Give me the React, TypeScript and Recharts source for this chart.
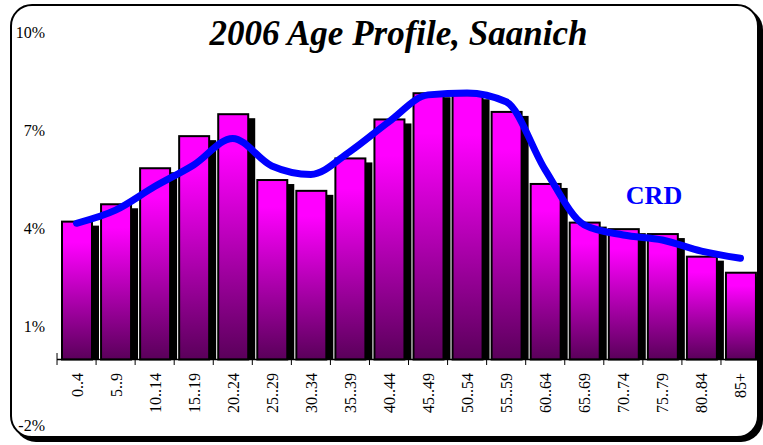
import React from 'react';
import { ComposedChart, Bar, Line, XAxis, YAxis, ReferenceLine } from 'recharts';

const categories = ['0..4', '5..9', '10..14', '15..19', '20..24', '25..29', '30..34', '35..39', '40..44', '45..49', '50..54', '55..59', '60..64', '65..69', '70..74', '75..79', '80..84', '85+'];
const saanich = [4.21, 4.74, 5.84, 6.82, 7.49, 5.48, 5.15, 6.14, 7.33, 8.13, 8.07, 7.56, 5.36, 4.18, 3.98, 3.83, 3.14, 2.65];
const crd = [4.16, 4.56, 5.28, 5.94, 6.75, 5.91, 5.65, 6.35, 7.26, 8.08, 8.14, 7.87, 5.79, 4.11, 3.8, 3.65, 3.31, 3.09];
const yTicks = [-2, 1, 4, 7, 10];
const title = '2006 Age Profile, Saanich';
const lineLabel = 'CRD';

const data = categories.map((c, i) => ({ cat: c, saanich: saanich[i], crd: crd[i] }));

const SERIF = '"Liberation Serif", "Times New Roman", serif';

const BarShape = (props: any) => {
  const { x, y, width, height } = props;
  if (!height || height <= 0) return null;
  return (
    <g>
      <rect x={x + 7} y={y + 4} width={width} height={Math.max(0, height - 4)} fill="#000" />
      <rect x={x} y={y} width={width} height={height} fill="url(#barGrad)" stroke="#000" strokeWidth={2} />
    </g>
  );
};

const XTick = (props: any) => {
  const { x, y, payload, index } = props;
  const oy = y - 66;
  const half = 19.5;
  const last = index === categories.length - 1;
  return (
    <g transform={`translate(${x},${oy})`}>
      <line x1={-half} x2={-half} y1={index === 0 ? -6 : 0} y2={6} stroke="#000" strokeWidth={1} />
      {last && <line x1={half} x2={half} y1={0} y2={6} stroke="#000" strokeWidth={1} />}
      <text
        x={0}
        y={0}
        transform="rotate(-90) translate(-14, 6)"
        textAnchor="end"
        fontFamily={SERIF}
        fontSize={16}
        fill="#000"
      >
        {payload.value}
      </text>
    </g>
  );
};

export default function App() {
  return (
    <div style={{ position: 'absolute', left: 0, top: 0, width: 763, height: 445, background: '#fff' }}>
      <div
        style={{
          position: 'absolute',
          left: 10,
          top: 4,
          width: 745,
          height: 430,
          border: '2px solid #000',
          borderRadius: 22,
          boxShadow: '4px 4px 0 #000',
          background: '#fff',
        }}
      />
      <div
        style={{
          position: 'absolute',
          left: 0,
          width: 797,
          top: 14,
          textAlign: 'center',
          fontFamily: SERIF,
          fontWeight: 'bold',
          fontStyle: 'italic',
          fontSize: 35,
          lineHeight: '40px',
          color: '#000',
        }}
      >
        {title}
      </div>
      <div
        style={{
          position: 'absolute',
          left: 604,
          width: 100,
          top: 180,
          textAlign: 'center',
          fontFamily: SERIF,
          fontWeight: 'bold',
          fontSize: 26,
          lineHeight: '32px',
          color: '#0000FF',
        }}
      >
        {lineLabel}
      </div>
      <div style={{ position: 'absolute', left: 0, top: 0 }}>
        <ComposedChart
          width={763}
          height={445}
          data={data}
          margin={{ top: 32, right: 3, bottom: 0, left: 0 }}
          barCategoryGap={0}
        >
          <defs>
            <linearGradient id="barGrad" x1="0" y1="0" x2="0" y2="1">
              <stop offset="0" stopColor="#FF00FF" />
              <stop offset="0.15" stopColor="#FF00FF" />
              <stop offset="1" stopColor="#5A005A" />
            </linearGradient>
          </defs>
          <YAxis
            domain={[-2, 10]}
            ticks={yTicks}
            type="number"
            width={57}
            axisLine={false}
            tickLine={false}
            tickMargin={6}
            interval={0}
            tickFormatter={(v: number) => `${v}%`}
            tick={{ fontFamily: SERIF, fontSize: 16, fill: '#000' }}
            allowDataOverflow
          />
          <XAxis
            dataKey="cat"
            height={20}
            axisLine={false}
            tickLine={false}
            tickSize={0}
            tickMargin={0}
            interval={0}
            tick={<XTick />}
          />
          <ReferenceLine y={0} stroke="#000" strokeWidth={1.5} ifOverflow="extendDomain" />
          <Bar dataKey="saanich" barSize={30} shape={<BarShape />} isAnimationActive={false} />
          <Line
            dataKey="crd"
            type="monotone"
            stroke="#0000FF"
            strokeWidth={7}
            strokeLinecap="round"
            dot={false}
            activeDot={false}
            isAnimationActive={false}
          />
        </ComposedChart>
      </div>
    </div>
  );
}
